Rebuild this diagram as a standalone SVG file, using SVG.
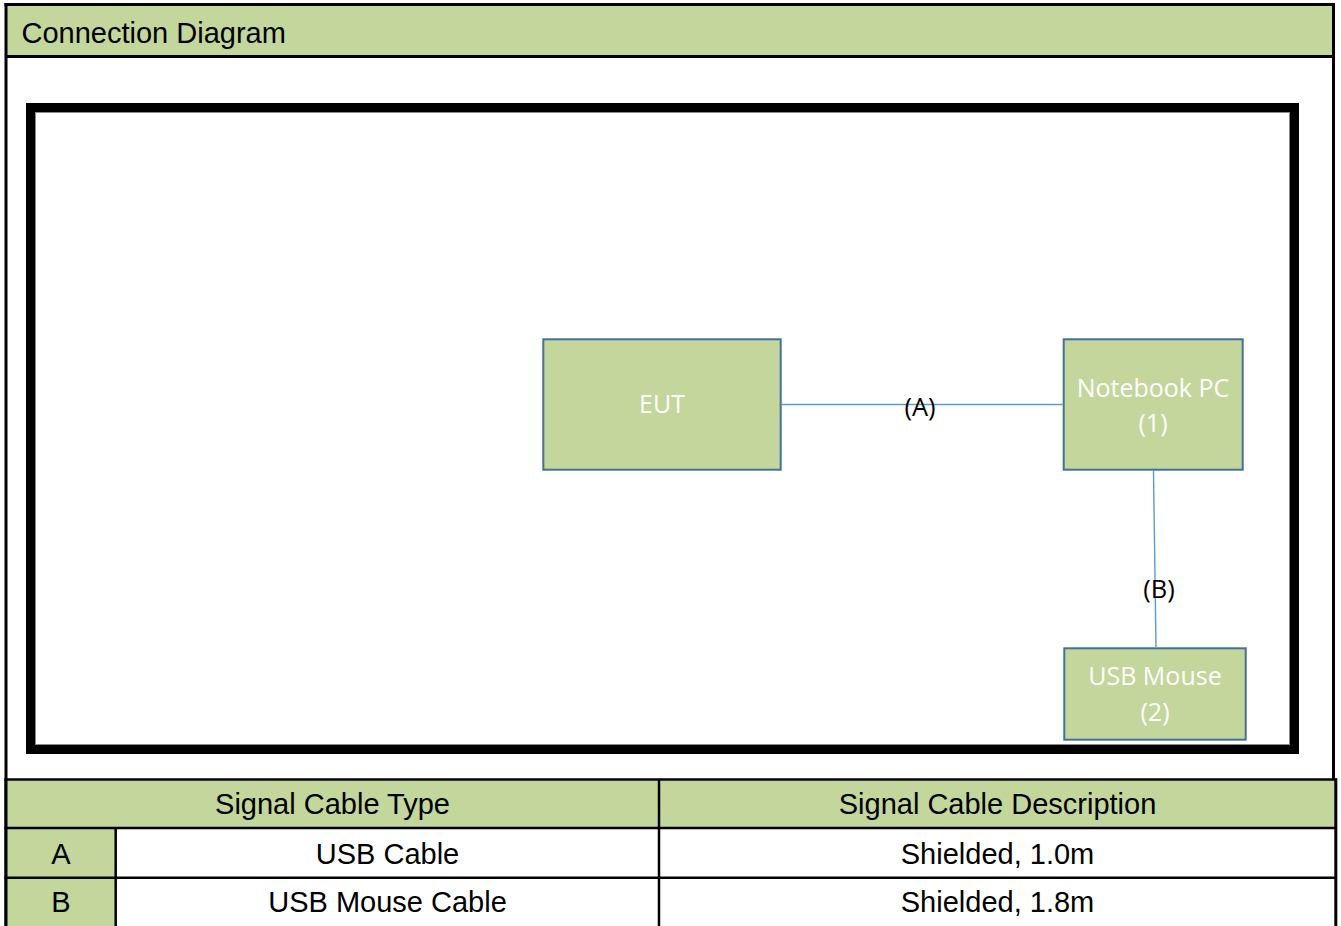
<svg xmlns="http://www.w3.org/2000/svg" width="1341" height="926" viewBox="0 0 1341 926">
  <style>
    .hdr { font-family: "Liberation Sans", Arial, sans-serif; font-size: 29px; fill: #000; }
    .cell { font-family: "Liberation Sans", Arial, sans-serif; font-size: 29px; fill: #000; text-anchor: middle; }
    .green { fill: #C3D69B; }
    .border { stroke: #000; stroke-width: 3; fill: none; }
    .tline { stroke: #000; stroke-width: 2.5; fill: none; }
    .node rect { fill: #C3D69B; stroke: #41719C; stroke-width: 2; }
    .node text { font-family: "Open Sans", "Noto Sans", sans-serif; font-size: 25px; fill: #FFFFFF; text-anchor: middle; }
    .conn { stroke: #5B9BD5; stroke-width: 1.4; fill: none; }
    .clabel { font-family: "Open Sans", "Noto Sans", sans-serif; font-size: 25.5px; fill: #000; text-anchor: middle; }
  </style>
  <rect x="0" y="0" width="1341" height="926" fill="#FFFFFF"/>
  <!-- header -->
  <g id="header">
    <rect class="green" x="7" y="6" width="1325" height="49"/>
    <text class="hdr" x="21.5" y="43.3">Connection Diagram</text>
  </g>
  <!-- outer borders -->
  <g id="outer-border">
    <line class="border" x1="4.5" y1="4.5" x2="1335" y2="4.5"/>
    <line class="border" x1="6" y1="3" x2="6" y2="926"/>
    <line class="border" x1="1333.5" y1="3" x2="1333.5" y2="780"/>
    <line class="border" x1="5" y1="56.5" x2="1335" y2="56.5"/>
  </g>
  <!-- thick frame -->
  <g id="frame">
    <rect x="30.5" y="107.5" width="1264" height="642" fill="none" stroke="#000" stroke-width="9"/>
    <rect x="35.5" y="112.5" width="1254" height="632" fill="none" stroke="#8a8a8a" stroke-width="1"/>
  </g>
  <!-- connectors -->
  <g id="connectors">
    <line class="conn" x1="781.7" y1="404.5" x2="1062.7" y2="404.5"/>
    <line class="conn" x1="1153.5" y1="470.7" x2="1156" y2="647.3"/>
    <text class="clabel" x="920" y="415.5">(A)</text>
    <text class="clabel" x="1159" y="598">(B)</text>
  </g>
  <!-- nodes -->
  <g id="node-eut" class="node">
    <rect x="543.3" y="339.3" width="237.4" height="130.4"/>
    <text x="662" y="413.3">EUT</text>
  </g>
  <g id="node-notebook" class="node">
    <rect x="1063.7" y="339.3" width="179" height="130.4"/>
    <text x="1153" y="396.7">Notebook PC</text>
    <text x="1153" y="431.7">(1)</text>
  </g>
  <g id="node-mouse" class="node">
    <rect x="1064.3" y="648.3" width="181.4" height="91.4"/>
    <text x="1155" y="685">USB Mouse</text>
    <text x="1155" y="720.5">(2)</text>
  </g>
  <!-- table -->
  <g id="table">
    <rect class="green" x="7" y="780.5" width="1328" height="47"/>
    <rect class="green" x="7" y="828" width="108.7" height="98"/>
    <line class="tline" x1="4.5" y1="779.5" x2="1337" y2="779.5"/>
    <line class="tline" x1="4.5" y1="828" x2="1337" y2="828"/>
    <line class="tline" x1="4.5" y1="877.7" x2="1337" y2="877.7"/>
    <line class="tline" x1="115.7" y1="828" x2="115.7" y2="926"/>
    <line class="tline" x1="659" y1="779" x2="659" y2="926"/>
    <line class="border" x1="1335.8" y1="778.5" x2="1335.8" y2="926"/>
    <line class="border" x1="6" y1="778" x2="6" y2="926"/>
    <text class="cell" x="332.5" y="814.3">Signal Cable Type</text>
    <text class="cell" x="997.5" y="814.3">Signal Cable Description</text>
    <text class="cell" x="61" y="864">A</text>
    <text class="cell" x="387.5" y="864">USB Cable</text>
    <text class="cell" x="997.5" y="864">Shielded, 1.0m</text>
    <text class="cell" x="61" y="912">B</text>
    <text class="cell" x="387.5" y="912">USB Mouse Cable</text>
    <text class="cell" x="997.5" y="912">Shielded, 1.8m</text>
  </g>
</svg>
